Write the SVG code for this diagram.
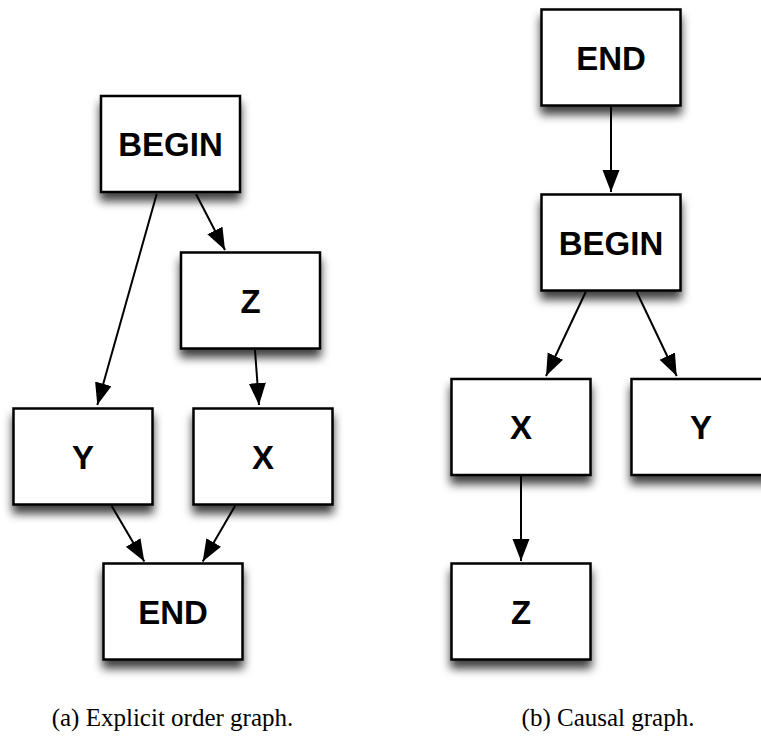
<svg xmlns="http://www.w3.org/2000/svg" width="761" height="737" viewBox="0 0 761 737">
<style>
.box{fill:#fff;stroke:#000;stroke-width:2.5;filter:url(#sh)}
.lbl{font-family:"Liberation Sans",Arial,sans-serif;font-weight:bold;font-size:33px;text-anchor:middle;fill:#000}
.edge{stroke:#000;stroke-width:2;fill:none;marker-end:url(#ah)}
.cap{font-family:"Liberation Serif","Times New Roman",serif;font-size:25px;text-anchor:middle;fill:#000}
</style>
<defs>
<filter id="sh" x="-20%" y="-20%" width="140%" height="160%">
<feDropShadow dx="0" dy="8" stdDeviation="5" flood-color="#000" flood-opacity="0.75"/>
</filter>
<marker id="ah" markerUnits="userSpaceOnUse" markerWidth="24" markerHeight="18" refX="22" refY="8.5" orient="auto">
<path d="M0,0 L22,8.5 L0,17 z" fill="#000"/>
</marker>
</defs>
<rect width="761" height="737" fill="#fff"/>
<g id="connectors">
<line class="edge" x1="156.7" y1="194" x2="97.3" y2="405"/>
<line class="edge" x1="196" y1="194" x2="225" y2="250"/>
<line class="edge" x1="255" y1="350" x2="259" y2="405"/>
<line class="edge" x1="111.7" y1="506" x2="144.3" y2="561.5"/>
<line class="edge" x1="235" y1="506" x2="202.7" y2="561.5"/>
<line class="edge" x1="611" y1="107" x2="611" y2="192"/>
<line class="edge" x1="585.7" y1="292" x2="546" y2="376"/>
<line class="edge" x1="636.7" y1="292" x2="676.7" y2="376"/>
<line class="edge" x1="521" y1="476" x2="521" y2="561"/>
</g>
<g id="a-begin"><rect class="box" x="101" y="96" width="139" height="96"/><text class="lbl" x="170.5" y="156">BEGIN</text></g>
<g id="a-z"><rect class="box" x="181" y="252.5" width="139" height="96"/><text class="lbl" x="250.5" y="312.5">Z</text></g>
<g id="a-y"><rect class="box" x="13.5" y="408.5" width="139" height="96"/><text class="lbl" x="83" y="468.5">Y</text></g>
<g id="a-x"><rect class="box" x="193.5" y="408.5" width="139" height="96"/><text class="lbl" x="263" y="468.5">X</text></g>
<g id="a-end"><rect class="box" x="103.5" y="563.5" width="139" height="96"/><text class="lbl" x="173" y="623.5">END</text></g>
<g id="b-end"><rect class="box" x="541.5" y="9.5" width="139" height="96"/><text class="lbl" x="611" y="69.5">END</text></g>
<g id="b-begin"><rect class="box" x="541.5" y="194.5" width="139" height="96"/><text class="lbl" x="611" y="254.5">BEGIN</text></g>
<g id="b-x"><rect class="box" x="451.5" y="379" width="139" height="96"/><text class="lbl" x="521" y="439">X</text></g>
<g id="b-y"><rect class="box" x="631.5" y="379" width="139" height="96"/><text class="lbl" x="701" y="439">Y</text></g>
<g id="b-z"><rect class="box" x="451.5" y="563.5" width="139" height="96"/><text class="lbl" x="521" y="623.5">Z</text></g>
<text class="cap" x="172.5" y="726">(a) Explicit order graph.</text>
<text class="cap" x="608" y="726">(b) Causal graph.</text>
</svg>
